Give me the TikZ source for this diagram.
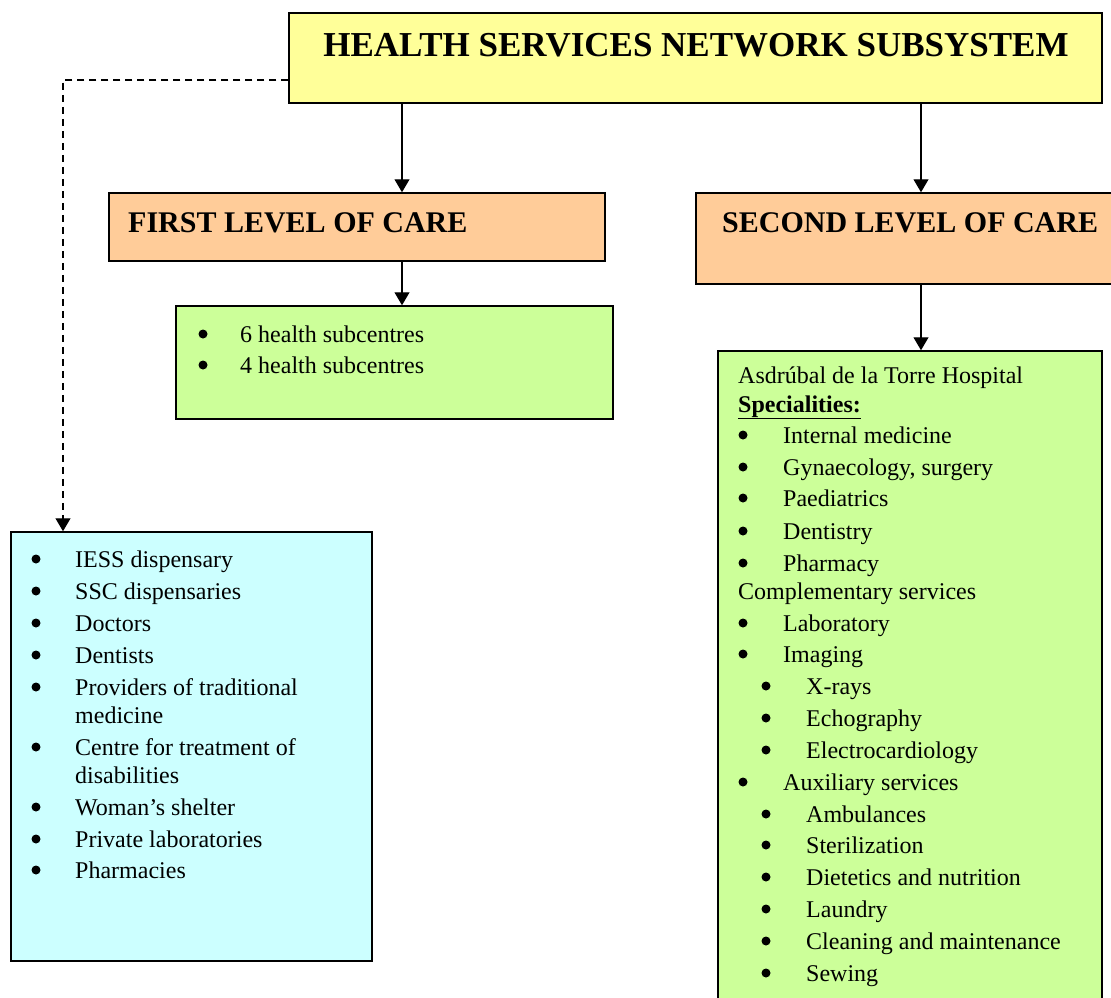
\documentclass[tikz,border=0pt]{standalone}
\usepackage{fontspec}
\setmainfont{Liberation Serif}
\usetikzlibrary{arrows.meta, positioning, calc}

\definecolor{headyellow}{HTML}{FFFF99}
\definecolor{levelorange}{HTML}{FFCC99}
\definecolor{listgreen}{HTML}{CCFF99}
\definecolor{listcyan}{HTML}{CCFFFF}

\begin{document}
\begin{tikzpicture}[x=1pt, y=-1pt, >={Triangle[width=15pt,length=13pt]}]

% Styles
\tikzstyle{box} = [rectangle, draw=black, line width=1.5pt, inner sep=0pt]
\tikzstyle{headbox} = [box, fill=headyellow, minimum width=813, minimum height=90]
\tikzstyle{levelbox} = [box, fill=levelorange]
\tikzstyle{arrow} = [line width=1.2pt, ->]
\tikzstyle{dasharrow} = [line width=1.2pt, dash pattern=on 7pt off 5pt, ->]
\tikzstyle{item} = [anchor=base west, inner sep=0pt, font=\fontsize{24}{28}\selectfont]
\tikzstyle{dot} = [circle, fill=black, minimum size=9pt, inner sep=0pt]
\tikzstyle{heading} = [inner sep=0pt, font=\fontsize{30}{34}\selectfont\bfseries]

\clip (0,0) rectangle (1111,998);
\useasboundingbox (0,0) rectangle (1111,998);

% --- Boxes ---
\node (title) [headbox] at (695.5,58) {};
\node (title_txt) [inner sep=0pt, anchor=base, font=\fontsize{35}{40}\selectfont\bfseries] at (696,57) {HEALTH SERVICES NETWORK SUBSYSTEM};

\node (first) [levelbox, minimum width=496, minimum height=68] at (357,227) {};
\node (first_txt) [heading, anchor=base west] at (128,232) {FIRST LEVEL OF CARE};

\node (second) [levelbox, minimum width=429, minimum height=91] at (910.5,238.5) {};
\node (second_txt) [heading, anchor=base west] at (722,232) {SECOND LEVEL OF CARE};

\node (firstlist) [box, fill=listgreen, minimum width=437, minimum height=113] at (394.5,362.5) {};
\node (secondlist) [box, fill=listgreen, minimum width=384, minimum height=669] at (910,685.5) {};
\node (otherlist) [box, fill=listcyan, minimum width=361, minimum height=429] at (191.5,746.5) {};

% --- Arrows ---
\coordinate (lx) at (402,0);
\coordinate (rx) at (921,0);
\coordinate (dx) at (63,80);
\draw[arrow] (title.south -| lx) -- (first.north -| lx);
\draw[arrow] (first.south -| lx) -- (firstlist.north -| lx);
\draw[arrow] (title.south -| rx) -- (second.north -| rx);
\draw[arrow] (second.south -| rx) -- (secondlist.north -| rx);
\draw[dasharrow] (title.west |- dx) -- (dx) -- (otherlist.north -| dx);

% --- First level: subcentres ---
\foreach \txt/\y [count=\i] in {6 health subcentres/342, 4 health subcentres/373} {
  \node (fb\i) [dot] at (203,\y-8) {};
  \node (fi\i) [item] at (240,\y) {\txt};
}

% --- Second level: hospital ---
\node (hosp) [item] at (738,383) {Asdrúbal de la Torre Hospital};
\node (spec) [item] at (738,412) {\textbf{\underline{Specialities:}}};
\node (comp) [item] at (738,599) {Complementary services};
\foreach \txt/\y [count=\i] in {Internal medicine/443, {Gynaecology, surgery}/475, Paediatrics/506,
    Dentistry/539, Pharmacy/571, Laboratory/631, Imaging/662, Auxiliary services/790} {
  \node (sb\i) [dot] at (743,\y-8) {};
  \node (si\i) [item] at (783,\y) {\txt};
}
\foreach \txt/\y [count=\i] in {X-rays/694, Echography/726, Electrocardiology/758, Ambulances/822,
    Sterilization/853, Dietetics and nutrition/885, Laundry/917, Cleaning and maintenance/949, Sewing/981} {
  \node (ssb\i) [dot] at (766,\y-8) {};
  \node (ssi\i) [item] at (806,\y) {\txt};
}

% --- Other providers ---
\foreach \txt/\y [count=\i] in {IESS dispensary/567, SSC dispensaries/599, Doctors/631, Dentists/663,
    Providers of traditional/695, Centre for treatment of/755, Woman’s shelter/815,
    Private laboratories/847, Pharmacies/878} {
  \node (ob\i) [dot] at (36,\y-8) {};
  \node (oi\i) [item] at (75,\y) {\txt};
}
\node (oi_wrap1) [item] at (75,723) {medicine};
\node (oi_wrap2) [item] at (75,783) {disabilities};

\end{tikzpicture}
\end{document}
